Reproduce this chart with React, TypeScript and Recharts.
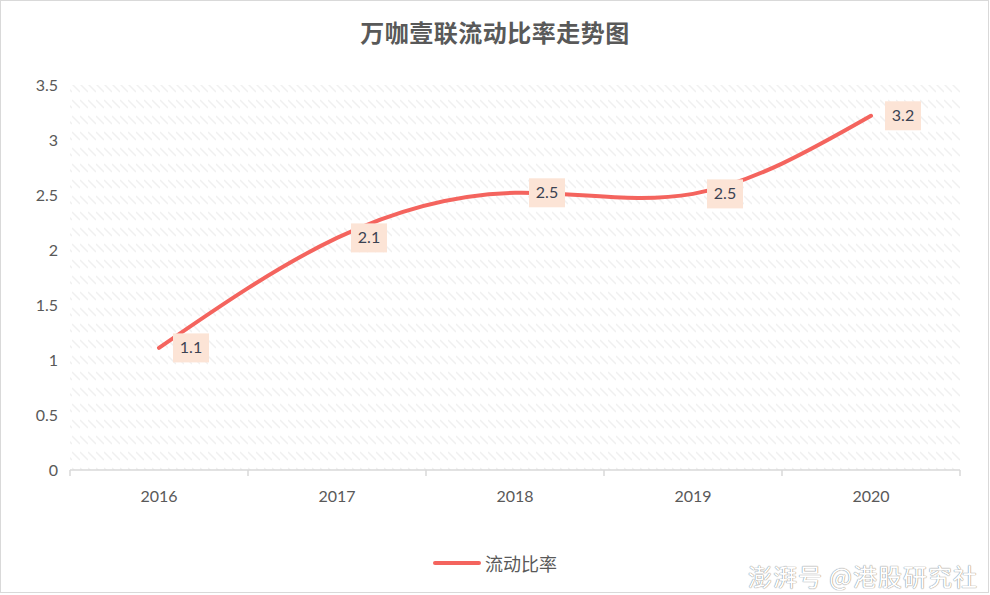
import { LineChart, Line, XAxis, YAxis, CartesianGrid, Legend, LabelList } from "recharts";

const years = ["2016", "2017", "2018", "2019", "2020"];
const currentRatio = [1.11, 2.11, 2.52, 2.51, 3.22];
const yTicks = [0, 0.5, 1, 1.5, 2, 2.5, 3, 3.5];
const xTicks = [0, 0.5, 1, 1.5, 2, 2.5, 3, 3.5, 4, 4.5, 5];

const LINE_COLOR = "#f4645e";
const TEXT_COLOR = "#595959";
const FONT = "Lato, 'Noto Sans CJK SC', sans-serif";

const data = years.map((y, i) => ({ x: i + 0.5, year: y, ratio: currentRatio[i] }));

// integer ticks = boundaries between categories (tick mark), half ticks = labels
function XTick(props: any) {
  const { x, y, payload } = props;
  const v = payload.value as number;
  if (Number.isInteger(v)) {
    return <line x1={x} x2={x} y1={y - 8} y2={y - 2} stroke="#d9d9d9" strokeWidth={1.5} />;
  }
  const label = years[Math.floor(v)];
  return (
    <text x={x} y={y + 24} textAnchor="middle" fill={TEXT_COLOR} fontSize={16} fontFamily={FONT}>
      {label}
    </text>
  );
}

function PointLabel(props: any) {
  const { x, y, value } = props;
  return (
    <g>
      <rect x={x + 14} y={y - 14.5} width={36} height={29} fill="#fce4d6" />
      <text
        x={x + 32}
        y={y + 1}
        textAnchor="middle"
        dominantBaseline="middle"
        fill="#3b4252"
        fontSize={16}
        fontFamily={FONT}
      >
        {Number(value).toFixed(1)}
      </text>
    </g>
  );
}

function LegendContent() {
  return (
    <div style={{ display: "flex", justifyContent: "center", alignItems: "center", fontFamily: FONT }}>
      <svg width={48} height={10} style={{ marginRight: 4 }}>
        <line x1={2} x2={46} y1={5} y2={5} stroke={LINE_COLOR} strokeWidth={4} strokeLinecap="round" />
      </svg>
      <span style={{ fontSize: 18, color: TEXT_COLOR }}>流动比率</span>
    </div>
  );
}

export default function App() {
  return (
    <div
      style={{
        position: "absolute",
        left: 0,
        top: 0,
        width: 990,
        height: 595,
        background: "#fff",
        fontFamily: FONT,
      }}
    >
      <div
        style={{
          position: "absolute",
          left: 0,
          top: 0,
          width: 989,
          height: 593,
          border: "1px solid #d9d9d9",
          boxSizing: "border-box",
        }}
      />
      <div
        style={{
          position: "absolute",
          top: 16,
          left: 0,
          width: 990,
          textAlign: "center",
          fontSize: 24,
          fontWeight: "bold",
          color: TEXT_COLOR,
          fontFamily: "'Noto Sans CJK SC', sans-serif",
          lineHeight: "32px",
          letterSpacing: 0.5,
        }}
      >
        万咖壹联流动比率走势图
      </div>
      <LineChart
        width={990}
        height={595}
        data={data}
        margin={{ top: 85, right: 30, left: 10, bottom: 85 }}
        style={{ position: "absolute", left: 0, top: 0 }}
      >
        <defs>
          <pattern id="hatch" width={8} height={16} patternUnits="userSpaceOnUse">
            <line x1={0} y1={4} x2={8} y2={12} stroke="#f0f0f0" strokeWidth={1.4} />
          </pattern>
        </defs>
        <CartesianGrid horizontal={false} vertical={false} fill="url(#hatch)" />
        <XAxis
          dataKey="x"
          type="number"
          domain={[0, 5]}
          ticks={xTicks}
          interval={0}
          height={40}
          tickLine={false}
          axisLine={{ stroke: "#d9d9d9", strokeWidth: 1.5 }}
          tick={<XTick />}
        />
        <YAxis
          domain={[0, 3.5]}
          ticks={yTicks}
          width={60}
          axisLine={false}
          tickLine={false}
          tickSize={4}
          tickMargin={8}
          tick={{ fill: TEXT_COLOR, fontSize: 16, fontFamily: FONT }}
        />
        <Legend
          verticalAlign="middle"
          layout="horizontal"
          wrapperStyle={{ top: 550, left: 0, width: 990 }}
          content={<LegendContent />}
        />
        <Line
          type="natural"
          dataKey="ratio"
          stroke={LINE_COLOR}
          strokeWidth={4}
          strokeLinecap="round"
          dot={false}
          activeDot={false}
          isAnimationActive={false}
        >
          <LabelList dataKey="ratio" content={<PointLabel />} />
        </Line>
      </LineChart>
      <div
        style={{
          position: "absolute",
          right: 12,
          top: 558,
          fontSize: 24,
          color: "#fff",
          fontFamily: "'Noto Sans CJK SC', sans-serif",
          textShadow: "0 0 1px #888, 0 0 1px #888",
          letterSpacing: 1,
        }}
      >
        澎湃号 @港股研究社
      </div>
    </div>
  );
}
